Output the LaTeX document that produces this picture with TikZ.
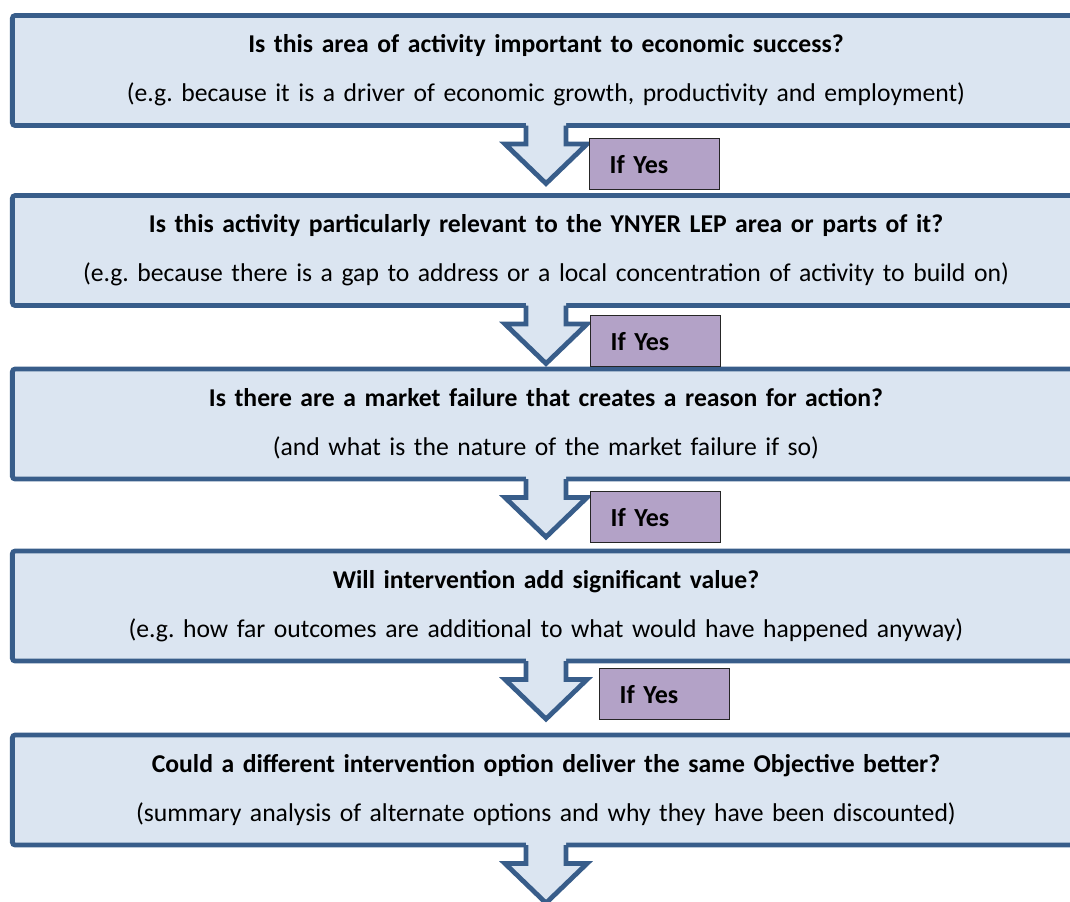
\documentclass[tikz,border=0pt]{standalone}
\usepackage{fontspec}
\setmainfont{Carlito}
\usetikzlibrary{calc,positioning}
\definecolor{edge}{HTML}{385D8A}
\definecolor{pale}{HTML}{DBE5F1}
\definecolor{heather}{HTML}{B3A2C7}
\frenchspacing

% block arrow hanging under a question box (units are px, y runs down)
\newcommand\flowarrow[1]{%
  \fill[pale] ($(#1.south)+(-20,-3)$) -- ($(#1.south)+(-20,18.5)$) -- ($(#1.south)+(-41,18.5)$)
    -- ($(#1.south)+(0,58)$) -- ($(#1.south)+(41,18.5)$) -- ($(#1.south)+(20,18.5)$)
    -- ($(#1.south)+(20,-3)$) -- cycle;
  \draw[edge, line width=3.4pt] ($(#1.south)+(-20,0)$) -- ($(#1.south)+(-20,18.5)$)
    -- ($(#1.south)+(-41,18.5)$) -- ($(#1.south)+(0,58)$) -- ($(#1.south)+(41,18.5)$)
    -- ($(#1.south)+(20,18.5)$) -- ($(#1.south)+(20,0)$);
}

\begin{document}
\begin{tikzpicture}[
  x=0.025cm, y=-0.025cm,
  question/.style={draw=edge, line width=3.4pt, fill=pale, rounded corners=2pt,
    text width=26.675cm, minimum height=2.75cm, inner sep=0pt, outer sep=0pt,
    align=center, anchor=north, font=\fontsize{18.25}{35}\selectfont},
  ifyes/.style={draw=black!85, line width=0.8pt, fill=heather, minimum width=3.25cm,
    minimum height=1.275cm, text width=2.25cm, inner xsep=0.5cm, align=left,
    anchor=north west, font=\fontsize{18.5}{21}\selectfont\bfseries}
]
  \useasboundingbox (0,0) rectangle (1070,901);

  \node[question] (q1) at (546,15.5) {\textbf{Is this area of activity important to economic success?}\\(e.g. because it is a driver of economic growth, productivity and employment)};
  \node[question] (q2) at (546,195.5) {\textbf{Is this activity particularly relevant to the YNYER LEP area or parts of it?}\\(e.g. because there is a gap to address or a local concentration of activity to build on)};
  \node[question] (q3) at (546,369) {\textbf{Is there are a market failure that creates a reason for action?}\\(and what is the nature of the market failure if so)};
  \node[question] (q4) at (546,551) {\textbf{Will intervention add significant value?}\\(e.g. how far outcomes are additional to what would have happened anyway)};
  \node[question] (q5) at (546,735) {\textbf{Could a different intervention option deliver the same Objective better?}\\(summary analysis of alternate options and why they have been discounted)};

  \foreach \q in {q1,q2,q3,q4,q5}
    \flowarrow{\q};

  \node[ifyes] (y1) at (589,138) {If Yes};
  \node[ifyes] (y2) at (590,315) {If Yes};
  \node[ifyes] (y3) at (590,491) {If Yes};
  \node[ifyes] (y4) at (599,668) {If Yes};
\end{tikzpicture}
\end{document}
